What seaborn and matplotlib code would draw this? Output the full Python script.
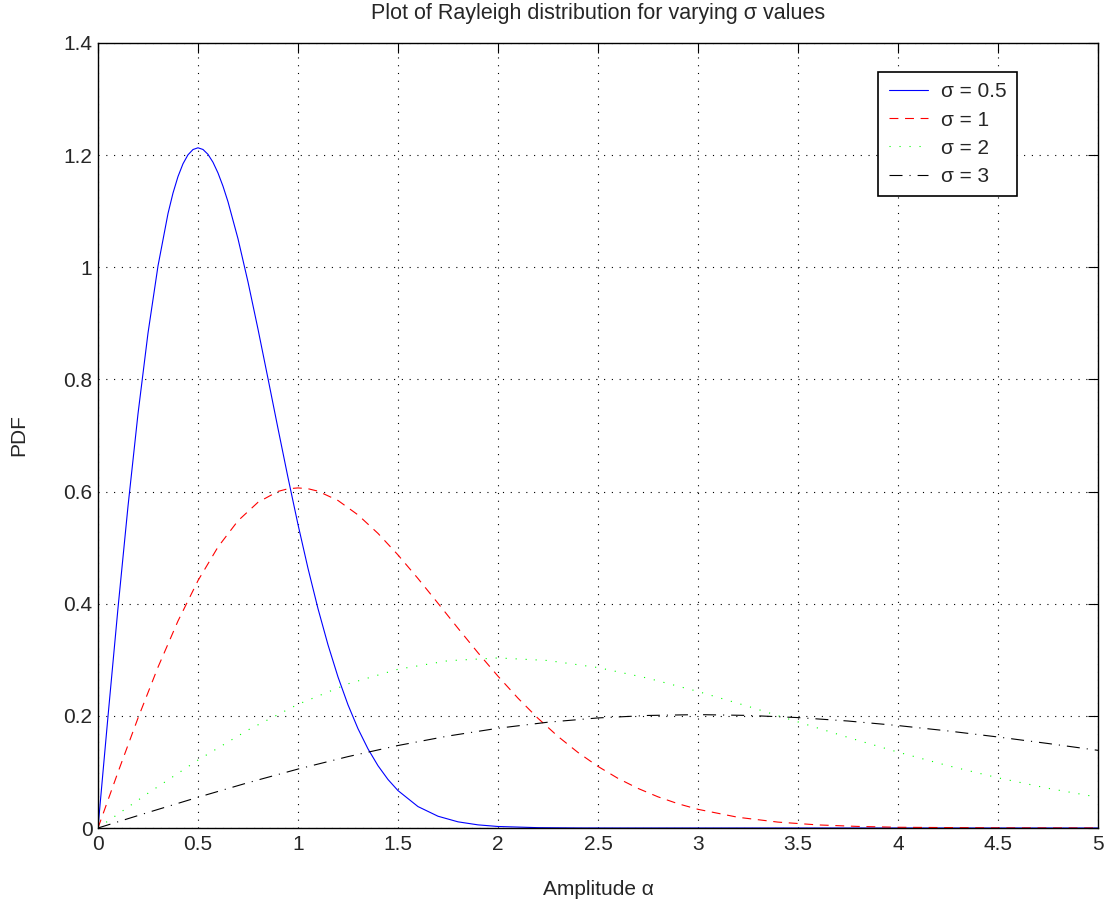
import matplotlib
matplotlib.use("Agg")
import matplotlib.pyplot as plt
import numpy as np
import pandas as pd
import seaborn as sns

# values
x_s05 = [0, 0.025, 0.05, 0.1, 0.15, 0.2, 0.25, 0.3, 0.35, 0.375, 0.4, 0.425, 0.45, 0.475, 0.5,
         0.525, 0.55, 0.575, 0.6, 0.625, 0.65, 0.7, 0.75, 0.8, 0.85, 0.9, 0.95, 1.0, 1.05,
         1.1, 1.15, 1.2, 1.25, 1.3, 1.35, 1.4, 1.45, 1.5, 1.6, 1.7, 1.8, 1.9, 2.0, 2.2, 2.4,
         2.6, 3.0, 4.0, 5.0]
y_s05 = [0, 0.0999, 0.1990, 0.3921, 0.5736, 0.7385, 0.8825, 1.0023, 1.0958, 1.1323, 1.1618,
         1.1846, 1.2006, 1.2100, 1.2131, 1.2101, 1.2014, 1.1873, 1.1682, 1.1446, 1.1169,
         1.0509, 0.9739, 0.8897, 0.8016, 0.7125, 0.6250, 0.5413, 0.4631, 0.3912, 0.3267,
         0.2694, 0.2197, 0.1771, 0.1411, 0.1111, 0.0865, 0.0667, 0.0382, 0.0210, 0.0110,
         0.0056, 0.0027, 0.0006, 0.0001, 0, 0, 0, 0]

x_s1 = [0, 0.1, 0.2, 0.3, 0.4, 0.5, 0.6, 0.7, 0.8, 0.9, 0.95, 1.0, 1.05, 1.1, 1.2, 1.3, 1.4,
        1.5, 1.6, 1.7, 1.8, 1.9, 2.0, 2.1, 2.2, 2.3, 2.4, 2.5, 2.6, 2.7, 2.8, 2.9, 3.0, 3.2,
        3.4, 3.6, 3.8, 4.0, 4.5, 5.0]
y_s1 = [0, 0.0995, 0.1960, 0.2868, 0.3692, 0.4412, 0.5012, 0.5479, 0.5809, 0.6003, 0.6050,
        0.6065, 0.6051, 0.6007, 0.5841, 0.5584, 0.5254, 0.4870, 0.4449, 0.4008, 0.3562,
        0.3125, 0.2707, 0.2315, 0.1956, 0.1633, 0.1347, 0.1098, 0.0885, 0.0706, 0.0556,
        0.0433, 0.0333, 0.0191, 0.0105, 0.0055, 0.0028, 0.0013, 0.0002, 0]

x_s2 = [0, 0.25, 0.5, 0.75, 1.0, 1.25, 1.5, 1.75, 2.0, 2.25, 2.5, 2.75, 3.0, 3.25, 3.5,
        3.75, 4.0, 4.25, 4.5, 4.75, 5.0]
y_s2 = [0, 0.0620, 0.1212, 0.1748, 0.2206, 0.2571, 0.2831, 0.2983, 0.3033, 0.2987, 0.2861,
        0.2671, 0.2435, 0.2170, 0.1892, 0.1616, 0.1353, 0.1111, 0.0895, 0.0708, 0.0549]

x_s3 = [0, 0.25, 0.5, 0.75, 1.0, 1.25, 1.5, 1.75, 2.0, 2.25, 2.5, 2.75, 3.0, 3.25, 3.5,
        3.75, 4.0, 4.25, 4.5, 4.75, 5.0]
y_s3 = [0, 0.0277, 0.0548, 0.0808, 0.1051, 0.1273, 0.1471, 0.1640, 0.1779, 0.1887, 0.1963,
        0.2007, 0.2022, 0.2008, 0.1969, 0.1908, 0.1827, 0.1731, 0.1623, 0.1507, 0.1385]

labels = ['σ = 0.5', 'σ = 1', 'σ = 2', 'σ = 3']
colors = ['#0000ff', '#ff0000', '#00ff00', '#000000']

xticks = [0, 0.5, 1, 1.5, 2, 2.5, 3, 3.5, 4, 4.5, 5]
xticklabels = ['0', '0.5', '1', '1.5', '2', '2.5', '3', '3.5', '4', '4.5', '5']
yticks = [0, 0.2, 0.4, 0.6, 0.8, 1.0, 1.2, 1.4]
yticklabels = ['0', '0.2', '0.4', '0.6', '0.8', '1', '1.2', '1.4']

sns.set_style("white")
plt.rcParams['font.family'] = ['Liberation Sans', 'DejaVu Sans']

df = pd.concat([
    pd.DataFrame({'x': x, 'y': y, 'sigma': lab})
    for x, y, lab in zip([x_s05, x_s1, x_s2, x_s3], [y_s05, y_s1, y_s2, y_s3], labels)
])

fig, ax = plt.subplots(figsize=(11.11, 9.07), dpi=100)
fig.subplots_adjust(left=0.0882, right=0.9883, top=0.9526, bottom=0.0871)

dashes = {'σ = 0.5': '', 'σ = 1': (8, 6), 'σ = 2': (1, 8), 'σ = 3': (11.7, 6.3, 1, 6.3)}
sns.lineplot(data=df, x='x', y='y', hue='sigma', style='sigma', hue_order=labels,
             style_order=labels, palette=dict(zip(labels, colors)), dashes=dashes,
             linewidth=0.8, sort=False, estimator=None, ax=ax)

ax.set_xlim(0, 5)
ax.set_ylim(0, 1.4)
ax.set_xticks(xticks)
ax.set_xticklabels(xticklabels)
ax.set_yticks(yticks)
ax.set_yticklabels(yticklabels)
ax.tick_params(direction='in', length=7, width=0.8, labelsize=15,
               top=True, right=True, color='black')
ax.tick_params(axis='x', pad=5)
ax.tick_params(axis='y', pad=4)
ax.grid(True, color='black', linestyle=(0, (1, 6)), linewidth=0.8)
for s in ax.spines.values():
    s.set_color('black')
    s.set_linewidth(1.0)

ax.set_title('Plot of Rayleigh distribution for varying σ values', fontsize=15.5, pad=17)
ax.set_xlabel('Amplitude α', fontsize=15, labelpad=19)
ax.set_ylabel('PDF', fontsize=15, labelpad=25)

leg = ax.legend(loc='upper right', bbox_to_anchor=(0.919, 0.963), borderaxespad=0,
                fontsize=15, frameon=True, fancybox=False, framealpha=1,
                edgecolor='black', handlelength=1.9, handletextpad=0.6,
                labelspacing=0.44, borderpad=0.5, title=None)
leg.get_frame().set_linewidth(1.2)

fig.savefig('out.png', dpi=100)
